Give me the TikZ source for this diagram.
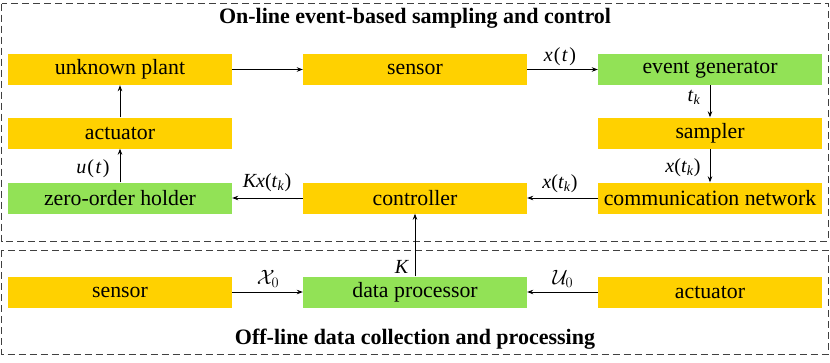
\documentclass[tikz,border=0pt]{standalone}
\usepackage{fontspec}
\setmainfont{Liberation Serif}
\usetikzlibrary{arrows.meta}
\definecolor{boxyellow}{RGB}{255,209,0}
\definecolor{boxgreen}{RGB}{146,226,86}
\begin{document}
\begin{tikzpicture}[x=1pt,y=-1pt,
  blk/.style={minimum width=224pt,minimum height=31pt,inner sep=0pt,font=\fontsize{21.8}{24}\selectfont},
  yb/.style={blk,fill=boxyellow},
  gb/.style={blk,fill=boxgreen},
  arr/.style={-{Stealth[length=6pt,width=4.5pt]},line width=0.8pt},
  lbl/.style={font=\fontsize{20}{22}\selectfont,inner sep=0pt},
  frame/.style={dash pattern=on 7pt off 4pt,line width=0.9pt,draw=black!75},
  ttl/.style={font=\fontsize{22}{26}\selectfont\bfseries}]
\useasboundingbox (0,0) rectangle (830,362);
\draw[frame] (1.5,3.5) rectangle (828,241);
\draw[frame] (1.5,250) rectangle (828,354);
\node[ttl] (t1) at (415,18) {On-line event-based sampling and control};
\node[ttl] (t2) at (415,339) {Off-line data collection and processing};
% boxes
\node[yb] (plant) at (120,69.5) {unknown plant};
\node[yb] (sens) at (415,69.5) {sensor};
\node[gb] (evg) at (710,69.5) {event generator};
\node[yb] (act) at (120,133) {actuator};
\node[yb] (samp) at (710,133) {sampler};
\node[gb] (zoh) at (120,198) {zero-order holder};
\node[yb] (ctrl) at (415,198) {controller};
\node[yb] (comm) at (710,198) {communication network};
\node[yb] (sens2) at (120,292) {sensor};
\node[gb] (dp) at (415,292) {data processor};
\node[yb] (act2) at (710,292) {actuator};
% connectors
\draw[arr] (plant) -- (sens);
\draw[arr] (sens) -- (evg);
\draw[arr] (evg) -- (samp);
\draw[arr] (samp) -- (comm);
\draw[arr] (comm) -- (ctrl);
\draw[arr] (ctrl) -- (zoh);
\draw[arr] (zoh) -- (act);
\draw[arr] (act) -- (plant);
\draw[arr] (dp) -- (ctrl);
\draw[arr] (sens2) -- (dp);
\draw[arr] (act2) -- (dp);
% labels
\node[lbl] (l1) at (560,57) {\textit{x}\kern1pt(\kern1.5pt\textit{t}\kern1.5pt)};
\node[lbl] (l2) at (694,97) {\textit{t}\textsubscript{\textit{k}}};
\node[lbl] (l3) at (683,168) {\textit{x}(\textit{t}\textsubscript{\textit{k}})};
\node[lbl] (l4) at (560,184) {\textit{x}(\textit{t}\textsubscript{\textit{k}})};
\node[lbl] (l5) at (267,183) {\textit{Kx}(\textit{t}\textsubscript{\textit{k}})};
\node[lbl] (l6) at (93,169) {\textit{u}\kern1pt(\kern1.5pt\textit{t}\kern1.5pt)};
\node[lbl] (l7) at (402,267) {\textit{K}};
\node[lbl] (l8) at (268,279) {$\mathcal{X}_0$};
\node[lbl] (l9) at (563,279) {$\mathcal{U}_0$};
\end{tikzpicture}
\end{document}
